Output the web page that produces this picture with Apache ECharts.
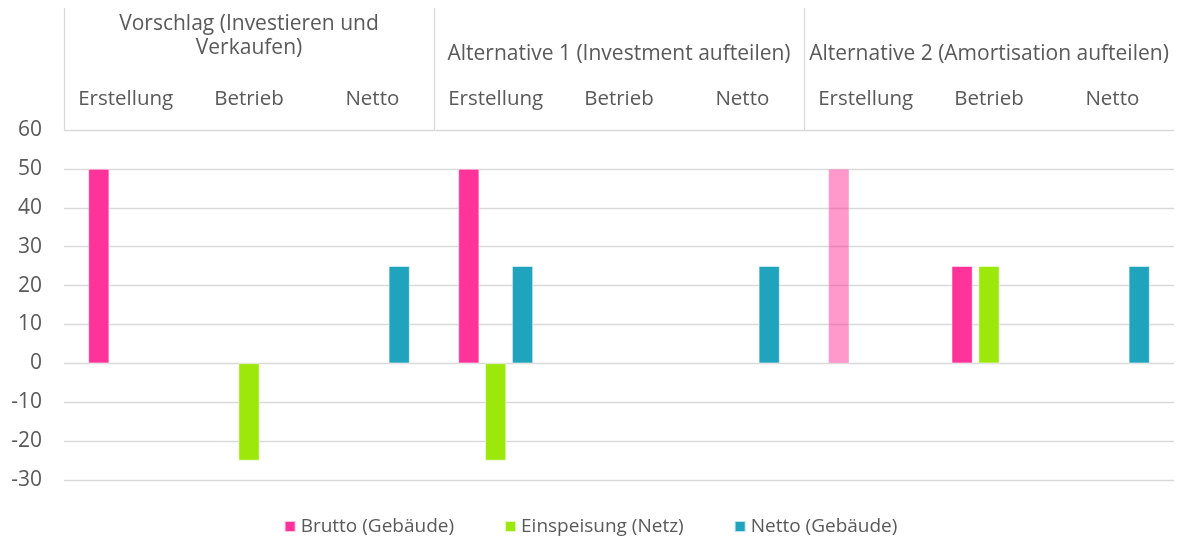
<!DOCTYPE html>
<html>
<head>
<meta charset="utf-8">
<script src="https://cdn.jsdelivr.net/npm/echarts@6/dist/echarts.min.js"></script>
<style>
html,body{margin:0;padding:0;background:#fff;}
#chart{width:1181px;height:543px;}
</style>
</head>
<body>
<div id="chart"></div>
<script>
const categories = ['Erstellung','Betrieb','Netto','Erstellung','Betrieb','Netto','Erstellung','Betrieb','Netto'];
const groups = ['Vorschlag (Investieren und\nVerkaufen)','Alternative 1 (Investment aufteilen)','Alternative 2 (Amortisation aufteilen)'];
const seriesNames = ['Brutto (Gebäude)','Einspeisung (Netz)','Netto (Gebäude)'];
const brutto = [50, null, null, 50, null, null, 50, 25, null];
const einspeisung = [null, -25, null, -25, null, null, null, 25, null];
const netto = [null, null, 25, 25, null, 25, null, null, 25];
const yTicks = { min: -30, max: 60, interval: 10 };
const fadedBruttoIndex = 6;

const FONT = 'Open Sans';
const TXT = '#595959';
const GRID = '#d9d9d9';

const chart = echarts.init(document.getElementById('chart'), null, {renderer:'canvas'});

const bruttoData = brutto.map((v, i) => i === fadedBruttoIndex && v != null ? {value: v, itemStyle: {opacity: 0.5}} : v);

const barCommon = {
  type: 'bar',
  xAxisIndex: 0, yAxisIndex: 0,
  barWidth: 21,
  barGap: '28%',
  itemStyle: {borderColor: 'rgba(255,255,255,0.7)', borderWidth: 0.75},
  emphasis: {disabled: true}
};

const groupLabelStyle = {color: TXT, fontSize: 21, fontFamily: FONT, lineHeight: 24};

chart.setOption({
  animation: false,
  textStyle: {fontFamily: FONT},
  color: ['#FF3399', '#9CE80B', '#20A3BC'],
  grid: [
    {left: 64, right: 7, top: 130, bottom: 63, outerBoundsMode: 'none', containLabel: false},
    {left: 64, right: 7, top: 8, height: 122, outerBoundsMode: 'none', containLabel: false}
  ],
  legend: {
    top: 512,
    left: 'center',
    itemWidth: 11, itemHeight: 11,
    itemGap: 50,
    icon: 'rect',
    textStyle: {fontFamily: FONT, fontSize: 19, color: TXT},
    data: seriesNames
  },
  xAxis: [
    {
      type: 'category', gridIndex: 0, position: 'top',
      data: categories,
      axisLine: {show: false}, axisTick: {show: false},
      axisLabel: {color: TXT, fontSize: 20.5, fontFamily: FONT, margin: 31, verticalAlign: 'middle', interval: 0}
    },
    {
      type: 'category', gridIndex: 0, position: 'top',
      data: groups,
      axisLine: {show: false}, axisTick: {show: false},
      axisLabel: Object.assign({}, groupLabelStyle, {
        margin: 76, verticalAlign: 'middle', interval: 0,
        formatter: (v) => v.indexOf('\n') >= 0
          ? v.split('\n').map(s => '{g|' + s + '}').join('\n') + '\n{s| }'
          : v,
        rich: {
          g: Object.assign({}, groupLabelStyle),
          s: {fontSize: 10, lineHeight: 36}
        }
      })
    },
    {
      type: 'category', gridIndex: 1, position: 'bottom',
      data: groups,
      axisLine: {show: false}, axisTick: {show: false}, axisLabel: {show: false},
      splitLine: {show: true, showMinLine: true, showMaxLine: false, lineStyle: {color: GRID, width: 1.3}}
    }
  ],
  yAxis: [
    {
      type: 'value', gridIndex: 0,
      min: yTicks.min, max: yTicks.max, interval: yTicks.interval,
      axisLine: {show: false}, axisTick: {show: false},
      axisLabel: {color: TXT, fontSize: 21, fontFamily: FONT, margin: 22},
      splitLine: {show: true, lineStyle: {color: GRID, width: 1.3}}
    },
    {
      type: 'value', gridIndex: 1, min: 0, max: 1, show: false
    }
  ],
  series: [
    Object.assign({}, barCommon, {name: seriesNames[0], data: bruttoData}),
    Object.assign({}, barCommon, {name: seriesNames[1], data: einspeisung}),
    Object.assign({}, barCommon, {name: seriesNames[2], data: netto})
  ]
});
</script>
</body>
</html>
